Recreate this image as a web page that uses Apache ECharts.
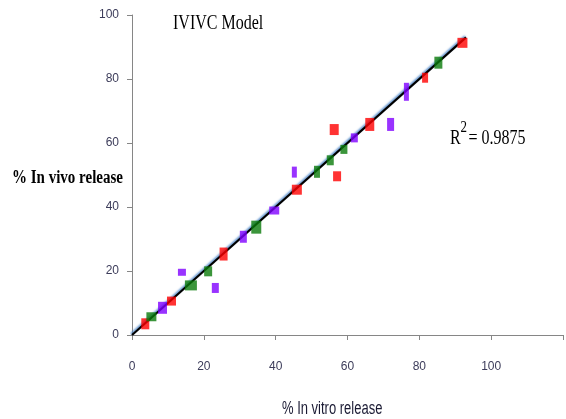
<!DOCTYPE html>
<html>
<head>
<meta charset="utf-8">
<script src="https://cdn.jsdelivr.net/npm/echarts@6/dist/echarts.min.js"></script>
<style>html,body{margin:0;padding:0;background:#fff}#c{width:566px;height:419px}</style>
</head>
<body>
<div id="c"></div>
<script>
// Data: [% in vitro release, % in vivo release]
var redPoints = [[3.7,3.5],[11.0,10.6],[25.5,25.3],[45.9,45.4],[56.3,64.2],[57.1,49.6],[66.2,65.8],[81.6,80.4],[92.0,91.3]];
var greenPoints = [[5.4,5.7],[16.4,15.5],[21.2,19.9],[34.6,33.7],[51.5,51.0],[55.2,54.6],[59.0,58.0],[85.3,85.1]];
var purplePoints = [[8.5,8.5],[13.9,19.6],[23.2,14.7],[31.0,30.7],[39.6,38.9],[45.2,50.9],[61.9,61.6],[72.0,65.8],[76.4,76.0]];
var trendLine = [[0,0],[93,93]];
var xTicks = [0,20,40,60,80,100];
var yTicks = [0,20,40,60,80,100];
var titleText = 'IVIVC Model';
var rSquared = '0.9875';

// marker sizes (style only)
var redSizes = [[8,11],[9,9],[8,13],[10,10],[9,11],[8,10],[9,13],[6,10],[10,10]];
var greenSizes = [[10,9],[12,10],[8,10],[10,13],[6,12],[7,10],[7,9],[8,12]];
var purpleSizes = [[9,12],[8,7],[7,10],[7,12],[10,8],[5,11],[7,9],[7,13],[5,18]];

function sizeFn(list){ return function(v, p){ return list[p.dataIndex]; }; }

function txt(x, y, text, font, fill, sy){
  return {type: 'text', x: x, y: y, scaleY: sy, originX: 0, originY: 0, z: 10,
    style: {text: text, font: font, fill: fill, verticalAlign: 'top', textVerticalAlign: 'top'}};
}

var chart = echarts.init(document.getElementById('c'));
chart.setOption({
  animation: false,
  backgroundColor: '#fff',
  grid: {left: 132, top: 15, right: -28, bottom: 84},
  xAxis: {
    type: 'value', min: 0, max: 120, interval: 20,
    axisLine: {show: true, lineStyle: {color: '#868686', width: 1}},
    axisTick: {show: true, length: 5, lineStyle: {color: '#868686'}},
    splitLine: {show: false},
    axisLabel: {margin: 26, fontSize: 12, color: '#3c3c5a', fontFamily: 'Liberation Sans',
      formatter: function(v){ return xTicks.indexOf(v) >= 0 ? String(v) : ''; }}
  },
  yAxis: {
    type: 'value', min: 0, max: 100, interval: 20,
    axisLine: {show: true, lineStyle: {color: '#868686', width: 1}},
    axisTick: {show: true, length: 5, lineStyle: {color: '#868686'}},
    splitLine: {show: false},
    axisLabel: {margin: 13, fontSize: 12, color: '#3c3c5a', fontFamily: 'Liberation Sans',
      formatter: function(v){ return yTicks.indexOf(v) >= 0 ? String(v) : ''; }}
  },
  series: [
    {type: 'line', data: trendLine, symbol: 'none', z: 2,
     lineStyle: {color: '#000', width: 2.2, shadowColor: 'rgba(70,130,200,0.9)', shadowBlur: 2, shadowOffsetX: -1, shadowOffsetY: -1}},
    {type: 'scatter', data: redPoints, symbol: 'rect', symbolSize: sizeFn(redSizes), z: 3,
     itemStyle: {color: '#ff0000'}},
    {type: 'scatter', data: greenPoints, symbol: 'rect', symbolSize: sizeFn(greenSizes), z: 3,
     itemStyle: {color: '#0a7a0a'}},
    {type: 'scatter', data: purplePoints, symbol: 'rect', symbolSize: sizeFn(purpleSizes), z: 3,
     itemStyle: {color: '#8000ff'}}
  ],
  graphic: [
    txt(173, 13, titleText, '16px "Liberation Serif"', '#000', 1.32),
    txt(12, 168, '% In vivo release', 'bold 15px "Liberation Serif"', '#000', 1.3),
    txt(282, 400, '% In vitro release', '13px "Liberation Sans"', '#1a1a33', 1.35),
    txt(450, 128, 'R', '16px "Liberation Serif"', '#000', 1.3),
    txt(460.5, 119, '2', '13px "Liberation Serif"', '#000', 1.35),
    txt(468.5, 128, '= ' + rSquared, '16px "Liberation Serif"', '#000', 1.3)
  ]
});
</script>
</body>
</html>
